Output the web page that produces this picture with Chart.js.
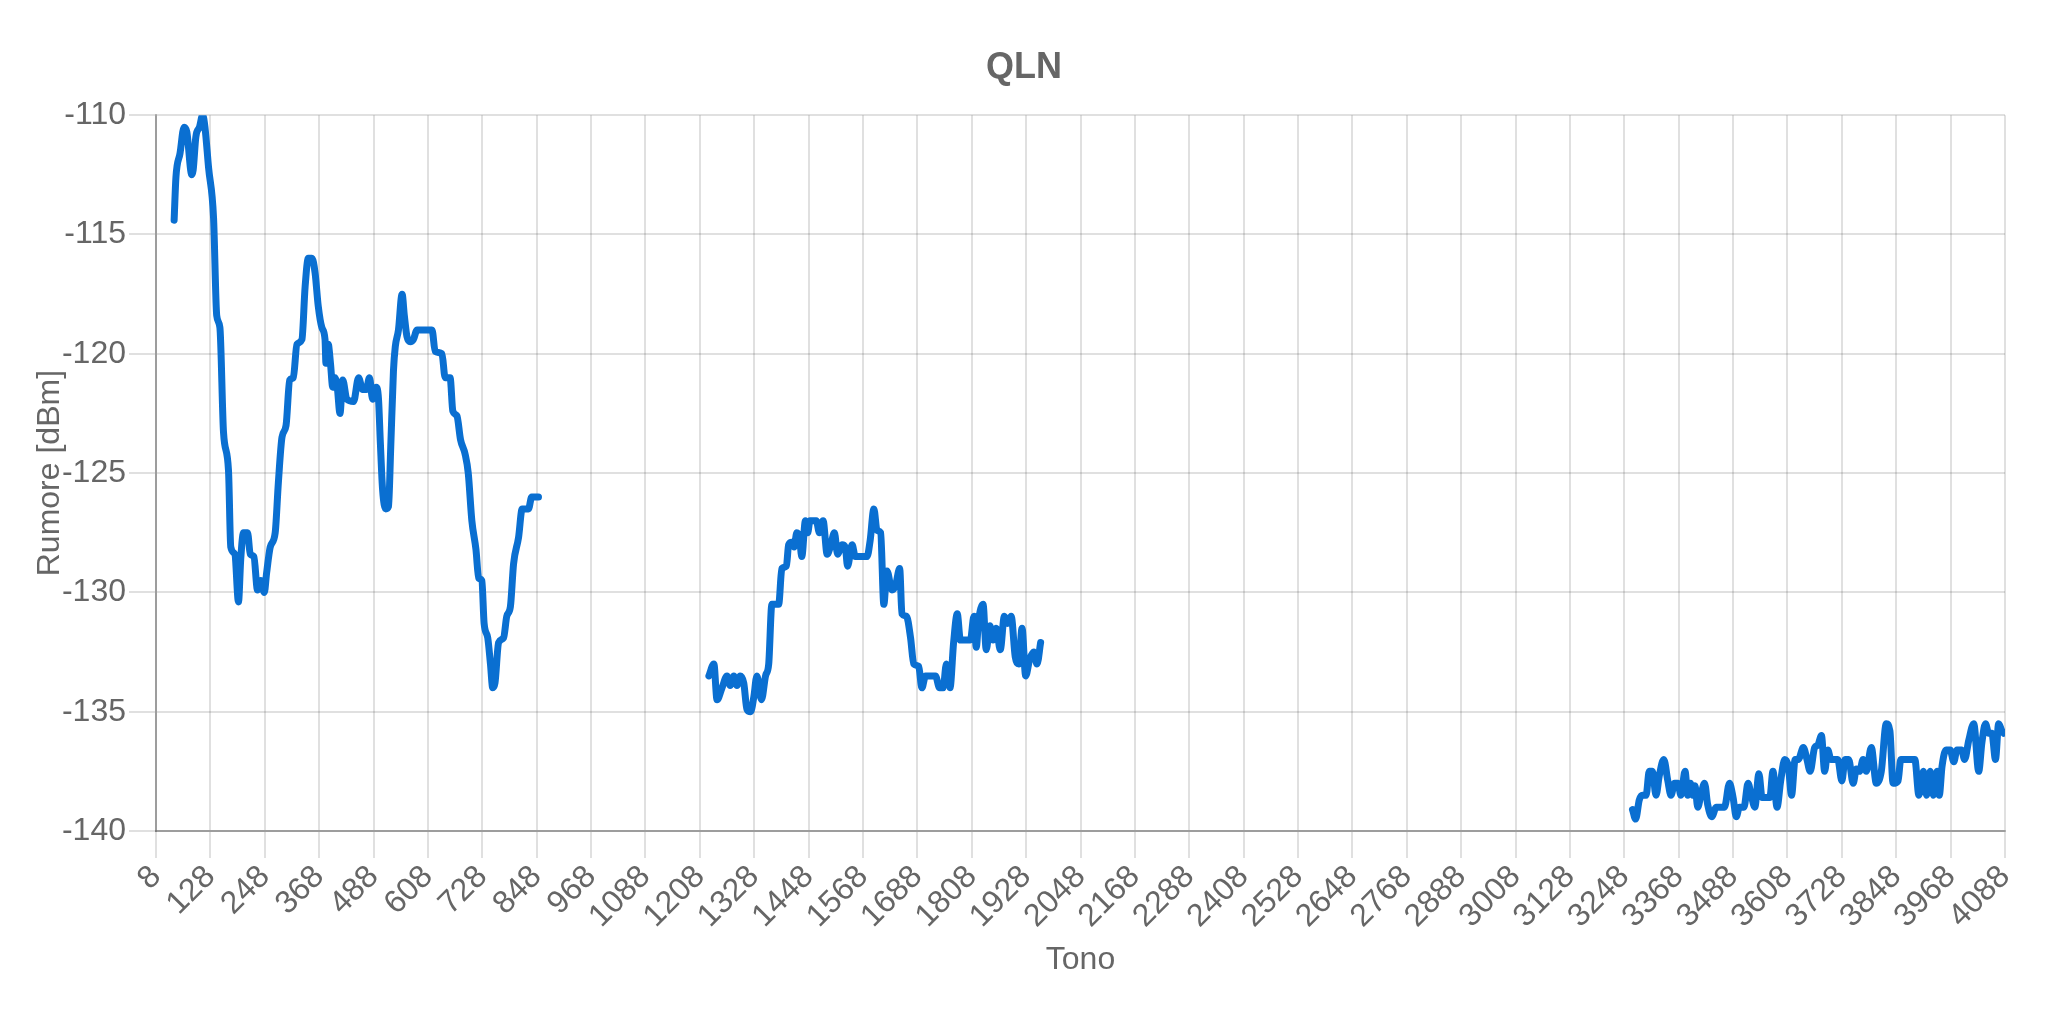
<!DOCTYPE html>
<html>
<head>
<meta charset="utf-8">
<title>QLN</title>
<script src="https://cdn.jsdelivr.net/npm/chart.js@4/dist/chart.umd.min.js"></script>
<style>
  html, body { margin: 0; padding: 0; background: #ffffff; }
  #wrap { width: 2048px; height: 1031px; position: relative; }
</style>
</head>
<body>
<div id="wrap"><canvas id="qlnChart"></canvas></div>
<script>
const FONT = "'Helvetica Neue', Helvetica, Arial, 'Liberation Sans', sans-serif";
const TEXT_COLOR = '#666666';
const LINE_COLOR = '#0a6fd1';

const X_TICKS = [
  8, 128, 248, 368, 488, 608, 728, 848, 968, 1088, 1208, 1328, 1448, 1568,
  1688, 1808, 1928, 2048, 2168, 2288, 2408, 2528, 2648, 2768, 2888, 3008,
  3128, 3248, 3368, 3488, 3608, 3728, 3848, 3968, 4088
];

// low band
const SEG1_TONES = [
  48, 52, 61, 70, 76, 87, 90, 96, 104, 111, 116, 124, 135, 142, 149, 157,
  168, 173, 182, 190, 195, 201, 210, 216, 224, 232, 239, 247, 252, 260, 271,
  278, 286, 295, 303, 311, 319, 330, 337, 344, 352, 359, 366, 374, 381, 383,
  388, 393, 398, 403, 408, 414, 420, 429, 444, 455, 464, 472, 479, 486, 494,
  499, 503, 508, 515, 521, 526, 532, 536, 543, 551, 556, 562, 569, 576, 584,
  617, 624, 639, 646, 657, 663, 672, 680, 690, 697, 705, 714, 720, 727, 732,
  740, 746, 751, 756, 764, 775, 782, 790, 797, 808, 816, 830, 837, 852
];
const SEG1_QLN = [
  -114.4, -112.6, -111.6, -110.5, -110.7, -112.5, -112.3, -110.9, -110.5, -110.0,
  -110.5, -112.2, -114.3, -118.4, -118.9, -123.3, -124.9, -128.1, -128.4, -130.4,
  -128.6, -127.5, -127.5, -128.4, -128.5, -129.9, -129.5, -130.0, -129.2, -128.1,
  -127.5, -125.4, -123.5, -123.0, -121.1, -121.0, -119.6, -119.4, -117.2, -116.0,
  -116.0, -116.6, -118.0, -118.9, -119.4, -120.4, -119.6, -120.4, -121.4, -121.0,
  -121.4, -122.5, -121.1, -121.9, -122.0, -121.0, -121.5, -121.5, -121.0, -121.9,
  -121.4, -121.9, -123.7, -125.7, -126.5, -126.4, -123.9, -120.7, -119.7, -119.0,
  -117.5, -118.4, -119.3, -119.5, -119.4, -119.0, -119.0, -119.9, -120.0, -121.0,
  -121.0, -122.4, -122.6, -123.6, -124.2, -125.0, -127.0, -128.2, -129.4, -129.5,
  -131.3, -131.9, -133.0, -134.0, -133.8, -132.1, -131.9, -131.0, -130.6, -128.8,
  -127.7, -126.5, -126.5, -126.0, -126.0
];

// middle band
const SEG2_TONES = [
  1228, 1239, 1246, 1257, 1268, 1275, 1283, 1290, 1297, 1305, 1312, 1320, 1327,
  1334, 1344, 1353, 1360, 1367, 1382, 1389, 1399, 1404, 1411, 1416, 1422, 1428,
  1433, 1441, 1446, 1451, 1459, 1465, 1472, 1480, 1489, 1496, 1505, 1512, 1522,
  1529, 1534, 1544, 1551, 1577, 1584, 1592, 1599, 1607, 1614, 1621, 1632, 1640,
  1649, 1654, 1664, 1673, 1680, 1691, 1698, 1706, 1728, 1737, 1745, 1752, 1760,
  1768, 1776, 1783, 1805, 1813, 1818, 1823, 1833, 1840, 1848, 1855, 1862, 1871,
  1880, 1887, 1895, 1904, 1912, 1919, 1927, 1936, 1945, 1952, 1960
];
const SEG2_QLN = [
  -133.5, -133.0, -134.5, -134.0, -133.5, -133.9, -133.5, -133.9, -133.5, -133.8,
  -134.9, -135.0, -134.4, -133.5, -134.5, -133.5, -133.0, -130.5, -130.5, -129.0,
  -128.9, -128.0, -127.9, -128.1, -127.5, -127.7, -128.5, -127.0, -127.5, -127.0,
  -127.0, -127.0, -127.5, -127.0, -128.4, -128.1, -127.5, -128.4, -128.0, -128.1,
  -128.9, -128.0, -128.5, -128.5, -127.8, -126.5, -127.4, -127.5, -130.5, -129.1,
  -129.9, -129.7, -129.0, -130.9, -131.0, -131.9, -133.0, -133.1, -134.0, -133.5,
  -133.5, -134.0, -134.0, -133.0, -134.0, -132.1, -130.9, -132.0, -132.0, -131.0,
  -132.3, -131.2, -130.5, -132.4, -131.4, -132.0, -131.5, -132.4, -131.0, -131.3,
  -131.0, -132.7, -133.0, -131.5, -133.5, -132.8, -132.5, -133.0, -132.1
];

// high band
const SEG3_TONES = [
  3266, 3273, 3281, 3288, 3296, 3303, 3310, 3318, 3325, 3335, 3344, 3351, 3359,
  3366, 3373, 3382, 3388, 3394, 3399, 3404, 3410, 3417, 3425, 3432, 3441, 3451,
  3469, 3480, 3488, 3495, 3502, 3512, 3521, 3528, 3536, 3545, 3552, 3569, 3576,
  3585, 3593, 3602, 3610, 3617, 3625, 3632, 3643, 3651, 3658, 3668, 3675, 3683,
  3690, 3697, 3704, 3719, 3728, 3735, 3743, 3753, 3760, 3767, 3775, 3782, 3793,
  3804, 3815, 3826, 3834, 3841, 3852, 3858, 3889, 3898, 3908, 3915, 3923, 3930,
  3938, 3943, 3949, 3958, 3967, 3975, 3982, 3992, 3999, 4008, 4019, 4030, 4037,
  4045, 4052, 4059, 4067, 4074, 4081, 4085
];
const SEG3_QLN = [
  -139.1, -139.5, -138.7, -138.5, -138.5, -137.5, -137.5, -138.5, -137.7, -137.0,
  -137.9, -138.5, -138.0, -138.0, -138.5, -137.5, -138.5, -138.0, -138.5, -138.1,
  -139.0, -138.5, -138.0, -138.9, -139.4, -139.0, -139.0, -138.0, -138.6, -139.4,
  -139.0, -139.0, -138.0, -138.5, -139.0, -137.6, -138.6, -138.6, -137.5, -139.0,
  -137.9, -137.0, -137.3, -138.5, -137.0, -137.0, -136.5, -137.0, -137.5, -136.5,
  -136.4, -136.0, -137.5, -136.6, -137.0, -137.0, -137.9, -137.0, -137.0, -138.0,
  -137.4, -137.5, -137.0, -137.5, -136.5, -138.0, -137.5, -135.5, -135.8, -138.0,
  -137.9, -137.0, -137.0, -138.5, -137.5, -138.5, -137.5, -138.5, -137.5, -138.5,
  -137.3, -136.6, -136.6, -137.1, -136.6, -136.6, -137.0, -136.2, -135.5, -137.5,
  -136.3, -135.5, -135.9, -135.9, -137.0, -135.5, -135.8, -135.9
];

function toPoints(tones, values) {
  return tones.map((t, i) => ({x: t, y: values[i]}));
}

// null points break the line between the bands
const points = [
  ...toPoints(SEG1_TONES, SEG1_QLN),
  {x: 1000, y: null},
  ...toPoints(SEG2_TONES, SEG2_QLN),
  {x: 2600, y: null},
  ...toPoints(SEG3_TONES, SEG3_QLN)
];

Chart.defaults.font.family = FONT;
Chart.defaults.color = TEXT_COLOR;

new Chart(document.getElementById('qlnChart'), {
  type: 'line',
  data: {
    datasets: [{
      label: 'QLN',
      data: points,
      borderColor: LINE_COLOR,
      backgroundColor: LINE_COLOR,
      borderWidth: 7,
      pointRadius: 0,
      fill: false,
      spanGaps: false,
      cubicInterpolationMode: 'monotone',
      borderJoinStyle: 'round',
      borderCapStyle: 'round'
    }]
  },
  options: {
    responsive: true,
    maintainAspectRatio: false,
    animation: false,
    devicePixelRatio: 1,
    plugins: {
      legend: { display: false },
      tooltip: { enabled: false },
      title: {
        display: true,
        text: 'QLN',
        color: TEXT_COLOR,
        font: { size: 36, weight: 'bold', family: FONT },
        padding: { top: 46, bottom: 26 }
      }
    },
    scales: {
      x: {
        type: 'linear',
        min: 8,
        max: 4088,
        afterBuildTicks: axis => { axis.ticks = X_TICKS.map(v => ({value: v})); },
        afterFit: axis => { axis.height = 200; },
        ticks: {
          autoSkip: false,
          minRotation: 45,
          maxRotation: 45,
          padding: 0,
          color: TEXT_COLOR,
          font: { size: 32 },
          callback: value => String(value)
        },
        grid: { color: 'rgba(0,0,0,0.12)', lineWidth: 2, tickLength: 27 },
        border: { color: 'rgba(0,0,0,0.3)', width: 2 },
        title: {
          display: true,
          text: 'Tono',
          color: TEXT_COLOR,
          font: { size: 32 },
          padding: { top: 0, bottom: 52 }
        }
      },
      y: {
        min: -140,
        max: -110,
        afterFit: axis => { axis.width = 156; },
        ticks: {
          stepSize: 5,
          padding: 3,
          color: TEXT_COLOR,
          font: { size: 32 }
        },
        grid: { color: 'rgba(0,0,0,0.12)', lineWidth: 2, tickLength: 27 },
        border: { color: 'rgba(0,0,0,0.3)', width: 2 },
        title: {
          display: true,
          text: 'Rumore [dBm]',
          color: TEXT_COLOR,
          font: { size: 32 },
          padding: { top: 31, bottom: 0 }
        }
      },
      // empty right-hand axis that only reserves the right margin
      yPad: {
        axis: 'y',
        position: 'right',
        display: true,
        min: -140,
        max: -110,
        afterFit: axis => { axis.width = 43; },
        ticks: { display: false },
        grid: { display: false },
        border: { display: false }
      }
    }
  }
});
</script>
</body>
</html>
